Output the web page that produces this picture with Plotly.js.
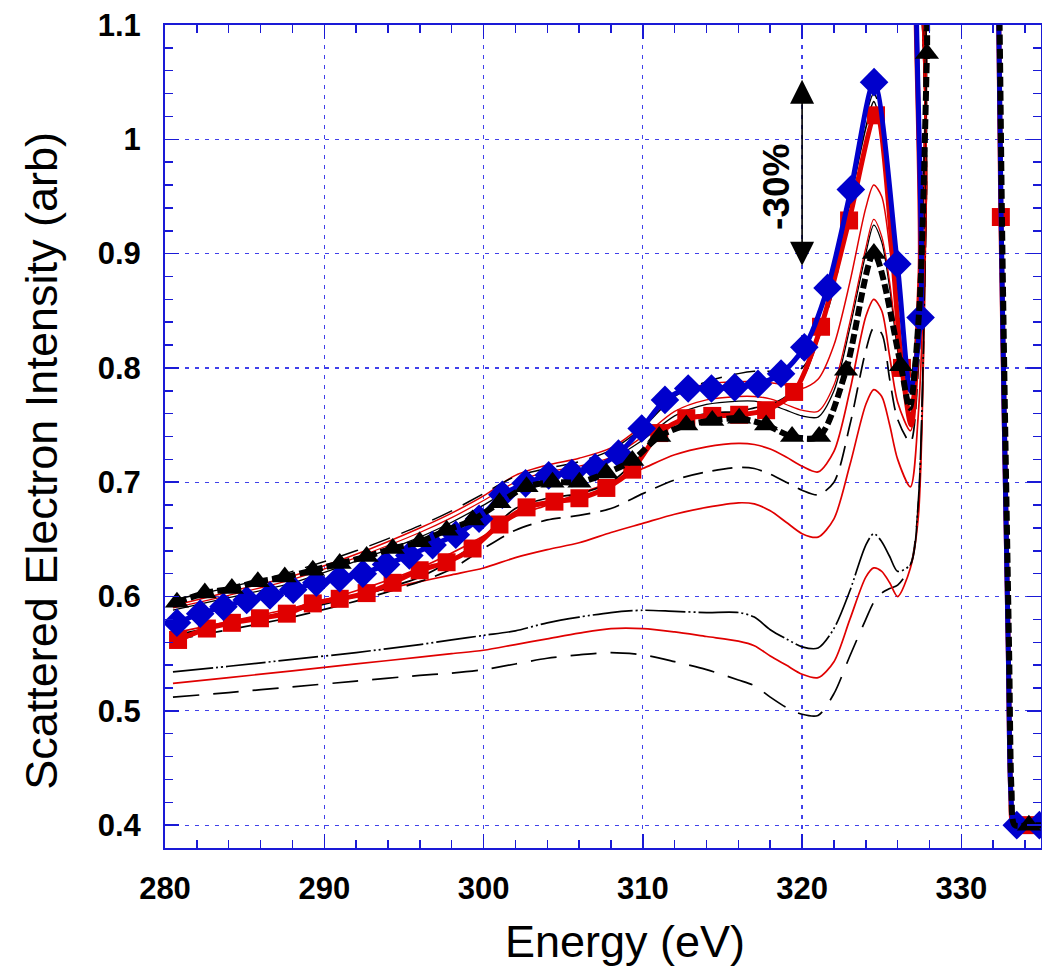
<!DOCTYPE html>
<html><head><meta charset="utf-8">
<script src="https://cdn.plot.ly/plotly-3.0.1.min.js"></script>
<style>html,body{margin:0;padding:0;background:#fff;}#chart{width:1042px;height:975px;}</style>
</head><body><div id="chart"></div>
<script>
// ---------- data ----------
// common energy grid for the thin curves (eV)
const X = [280.5, 284, 288, 292, 296, 298, 300, 302, 304, 306, 308, 310, 312, 314, 316, 317, 318, 319, 320, 321, 322, 323, 324, 324.5, 325, 325.5, 326, 326.8, 327.3, 327.8];
// shared off-scale excursion and drop back to the floor
const tailX = [328.4, 332.0, 332.35, 332.5, 332.7, 332.95, 333.1, 333.3, 335];
const tailY = [1.45, 1.45, 1.1, 0.93, 0.75, 0.55, 0.43, 0.40, 0.40];

const blackB = [0.597, 0.608, 0.622, 0.640, 0.662, 0.675, 0.690, 0.705, 0.712, 0.718, 0.728, 0.748, 0.775, 0.788, 0.795, 0.797, 0.797, 0.796, 0.800, 0.825, 0.870, 0.940, 1.020, 1.040, 1.020, 0.950, 0.870, 0.790, 0.860, 1.050];
const redC   = [0.592, 0.604, 0.618, 0.637, 0.660, 0.673, 0.688, 0.706, 0.715, 0.721, 0.730, 0.750, 0.776, 0.786, 0.788, 0.788, 0.787, 0.785, 0.782, 0.790, 0.820, 0.875, 0.940, 0.960, 0.950, 0.905, 0.845, 0.770, 0.860, 1.060];
const redE   = [0.590, 0.601, 0.615, 0.634, 0.656, 0.669, 0.684, 0.700, 0.709, 0.714, 0.722, 0.740, 0.762, 0.772, 0.775, 0.775, 0.773, 0.768, 0.763, 0.762, 0.785, 0.840, 0.905, 0.930, 0.915, 0.875, 0.820, 0.765, 0.850, 1.050];
const blackF = [0.588, 0.599, 0.612, 0.631, 0.652, 0.665, 0.680, 0.696, 0.705, 0.711, 0.720, 0.737, 0.758, 0.768, 0.771, 0.771, 0.768, 0.763, 0.758, 0.757, 0.780, 0.835, 0.900, 0.925, 0.910, 0.870, 0.815, 0.760, 0.845, 1.040];
const blackG = [0.566, 0.576, 0.587, 0.600, 0.617, 0.632, 0.652, 0.677, 0.686, 0.690, 0.700, 0.725, 0.752, 0.760, 0.762, 0.765, 0.768, 0.775, 0.790, 0.825, 0.880, 0.945, 1.010, 1.033, 1.005, 0.930, 0.840, 0.760, 0.850, 1.050];
const redH   = [0.568, 0.578, 0.590, 0.605, 0.625, 0.638, 0.653, 0.670, 0.680, 0.690, 0.700, 0.712, 0.724, 0.731, 0.734, 0.733, 0.729, 0.722, 0.714, 0.709, 0.727, 0.780, 0.845, 0.860, 0.850, 0.810, 0.770, 0.745, 0.830, 1.020];
const blackI = [0.562, 0.571, 0.582, 0.596, 0.613, 0.624, 0.642, 0.658, 0.667, 0.671, 0.677, 0.690, 0.702, 0.709, 0.713, 0.712, 0.707, 0.700, 0.693, 0.689, 0.700, 0.750, 0.815, 0.835, 0.830, 0.790, 0.755, 0.735, 0.800, 1.000];
const redJ   = [0.565, 0.576, 0.588, 0.601, 0.613, 0.619, 0.625, 0.634, 0.641, 0.647, 0.656, 0.664, 0.672, 0.678, 0.682, 0.681, 0.675, 0.665, 0.655, 0.652, 0.668, 0.715, 0.768, 0.781, 0.775, 0.750, 0.720, 0.696, 0.760, 0.950];
const blackK = [0.534, 0.539, 0.545, 0.551, 0.558, 0.562, 0.566, 0.570, 0.577, 0.582, 0.586, 0.588, 0.587, 0.586, 0.586, 0.582, 0.571, 0.563, 0.556, 0.555, 0.572, 0.605, 0.645, 0.655, 0.648, 0.635, 0.622, 0.628, 0.684, 0.950];
const redL   = [0.524, 0.529, 0.535, 0.541, 0.547, 0.550, 0.553, 0.558, 0.563, 0.568, 0.572, 0.572, 0.569, 0.565, 0.561, 0.557, 0.548, 0.540, 0.532, 0.529, 0.543, 0.580, 0.617, 0.625, 0.622, 0.612, 0.600, 0.625, 0.670, 0.950];
const blackM = [0.512, 0.516, 0.521, 0.526, 0.531, 0.533, 0.536, 0.541, 0.546, 0.549, 0.551, 0.549, 0.543, 0.536, 0.527, 0.522, 0.512, 0.503, 0.497, 0.496, 0.515, 0.548, 0.580, 0.595, 0.603, 0.607, 0.610, 0.627, 0.680, 0.950];

// blue diamonds (marked points) + unmarked points of the same curve
const diaX = [280.75, 282.21, 283.67, 285.13, 286.59, 288.05, 289.50, 290.96, 292.42, 293.88, 295.34, 296.80, 298.26, 299.72, 301.18, 302.64, 304.09, 305.55, 307.01, 308.47, 309.93, 311.39, 312.85, 314.31, 315.77, 317.23, 318.68, 320.14, 321.60, 323.06, 324.52, 325.98, 327.44, 333.48, 334.90];
const diaY = [0.577, 0.585, 0.591, 0.597, 0.601, 0.606, 0.612, 0.616, 0.620, 0.628, 0.636, 0.645, 0.654, 0.668, 0.689, 0.699, 0.706, 0.708, 0.713, 0.725, 0.747, 0.772, 0.782, 0.782, 0.783, 0.786, 0.795, 0.818, 0.870, 0.956, 1.050, 0.891, 0.844, 0.400, 0.400];
const diaLineX = [326.8, 328.4, 332.0, 332.35, 332.5, 332.7, 332.95, 333.1, 333.3, 335];
const diaLineY = [0.780, 1.45, 1.45, 1.10, 0.93, 0.75, 0.55, 0.43, 0.40, 0.40];

// red squares
const sqX = [280.82, 282.63, 284.20, 285.96, 287.65, 289.28, 290.97, 292.66, 294.29, 295.99, 297.68, 299.31, 301.00, 302.70, 304.45, 306.02, 307.71, 309.34, 311.03, 312.73, 314.36, 316.05, 317.74, 319.50, 321.19, 322.95, 324.64, 326.27, 332.48, 334.24];
const sqY = [0.562, 0.572, 0.577, 0.581, 0.585, 0.594, 0.598, 0.603, 0.612, 0.623, 0.630, 0.642, 0.663, 0.678, 0.683, 0.686, 0.695, 0.711, 0.743, 0.756, 0.758, 0.759, 0.763, 0.779, 0.836, 0.929, 1.021, 0.800, 0.932, 0.400];
const sqLineX = [326.85, 327.4, 328.4, 332.0, 332.35, 332.7, 332.95, 333.1, 333.3, 335];
const sqLineY = [0.750, 0.880, 1.45, 1.45, 1.10, 0.75, 0.55, 0.43, 0.40, 0.40];

// black triangles
const triX = [280.75, 282.50, 284.20, 285.83, 287.52, 289.28, 290.97, 292.66, 294.30, 295.99, 297.68, 299.31, 301.00, 302.70, 304.33, 306.02, 307.71, 309.34, 311.03, 312.73, 314.36, 316.05, 317.74, 319.37, 321.07, 322.76, 324.51, 326.20, 327.84, 334.24];
const triY = [0.595, 0.603, 0.607, 0.613, 0.617, 0.623, 0.629, 0.635, 0.642, 0.648, 0.658, 0.667, 0.682, 0.696, 0.700, 0.700, 0.708, 0.719, 0.740, 0.750, 0.754, 0.756, 0.750, 0.740, 0.740, 0.798, 0.900, 0.802, 1.075, 0.400];
const triLineX = [326.75, 327.35, 328.4, 332.0, 332.4, 332.55, 332.75, 333.0, 333.15, 333.35, 335];
const triLineY = [0.765, 0.850, 1.45, 1.45, 1.10, 0.93, 0.75, 0.55, 0.43, 0.40, 0.40];

// texts
const xTitle = 'Energy (eV)';
const yTitle = 'Scattered Electron Intensity (arb)';
const arrowX = 320, arrowTop = 1.052, arrowBottom = 0.888;
const labelText = '-30%', labelX = 318.4, labelY = 0.958;

// ---------- build ----------
const RED = '#e00000', BLUE = '#0000cc', BLACK = '#000000';
function merge(ax, ay, bx, by) {
  const pts = ax.map((v, i) => [v, ay[i]]).concat(bx.map((v, i) => [v, by[i]]));
  pts.sort((p, q) => p[0] - q[0]);
  return {x: pts.map(p => p[0]), y: pts.map(p => p[1])};
}
function thin(y, color, dash, width) {
  return {x: X.concat(tailX), y: y.concat(tailY), mode: 'lines', hoverinfo: 'skip',
    line: {color: color, dash: dash, width: width, shape: 'spline', smoothing: 0.8}};
}
const traces = [
  thin(blackM, BLACK, '26px,14px', 1.7),
  thin(redL, RED, 'solid', 1.7),
  thin(blackK, BLACK, '40px,3px,2px,3px,2px,3px', 1.7),
  thin(redJ, RED, 'solid', 1.7),
  thin(blackI, BLACK, '20px,10px', 1.7),
  thin(redH, RED, 'solid', 1.7),
  thin(blackG, BLACK, 'solid', 1.7),
  thin(blackF, BLACK, 'solid', 1.3),
  thin(redE, RED, 'solid', 1.3),
  thin(redC, RED, 'solid', 1.5),
  thin(blackB, BLACK, '22px,12px', 1.5)
];
const sqL = merge(sqX, sqY, sqLineX, sqLineY);
traces.push({x: sqL.x, y: sqL.y, mode: 'lines', line: {color: RED, width: 5, shape: 'spline', smoothing: 0.8}});
traces.push({x: sqX, y: sqY, mode: 'markers', marker: {symbol: 'square', size: 18, color: RED}});
const diL = merge(diaX, diaY, diaLineX, diaLineY);
traces.push({x: diL.x, y: diL.y, mode: 'lines', line: {color: BLUE, width: 5, shape: 'spline', smoothing: 0.8}});
traces.push({x: diaX, y: diaY, mode: 'markers', marker: {symbol: 'diamond', size: 22, color: BLUE}});
const trL = merge(triX, triY, triLineX, triLineY);
traces.push({x: trL.x, y: trL.y, mode: 'lines', line: {color: BLACK, width: 6, dash: '10px,4px', shape: 'spline', smoothing: 0.8}});
traces.push({x: triX, y: triY, mode: 'markers', marker: {symbol: 'triangle-up', size: 21, color: BLACK}});

const AX = '#1a1ad6';
const FONT = 'Liberation Sans, Arial, sans-serif';
const common = {
  showline: true, linecolor: AX, linewidth: 2, mirror: 'ticks',
  ticks: 'inside', ticklen: 14, tickwidth: 1.5, tickcolor: AX,
  showgrid: true, gridcolor: 'rgba(30,30,230,0.85)', gridwidth: 1.2, griddash: '4px,6px',
  zeroline: false,
  tickfont: {family: FONT, size: 31, color: '#000', weight: 'bold'}
};
const layout = {
  width: 1042, height: 975,
  margin: {l: 165, r: 1, t: 25, b: 127},
  paper_bgcolor: '#fff', plot_bgcolor: '#fff',
  showlegend: false,
  xaxis: Object.assign({}, common, {
    range: [280, 335], dtick: 10, tick0: 280,
    minor: {dtick: 2, ticks: 'inside', ticklen: 8, tickcolor: AX, tickwidth: 1.5, showgrid: false},
    ticklabelstandoff: 12
  }),
  yaxis: Object.assign({}, common, {
    range: [0.38, 1.1], dtick: 0.1, tick0: 0.4,
    minor: {dtick: 0.02, ticks: 'inside', ticklen: 8, tickcolor: AX, tickwidth: 1.5, showgrid: false},
    ticklabelstandoff: 16
  }),
  annotations: [
    {x: arrowX, y: arrowTop, ax: arrowX, ay: arrowBottom, axref: 'x', ayref: 'y', xref: 'x', yref: 'y',
     text: '', showarrow: true, arrowside: 'end+start', arrowhead: 2, arrowsize: 3, arrowwidth: 1.6, arrowcolor: '#000'},
    {x: labelX, y: labelY, xref: 'x', yref: 'y', text: labelText, showarrow: false, textangle: -90,
     font: {family: FONT, size: 37, color: '#000', weight: 'bold'}},
    {x: 0.525, y: -0.114, xref: 'paper', yref: 'paper', xanchor: 'center', yanchor: 'middle',
     text: xTitle, showarrow: false, font: {family: FONT, size: 45, color: '#000'}},
    {x: -0.141, y: 0.471, xref: 'paper', yref: 'paper', xanchor: 'center', yanchor: 'middle',
     text: yTitle, showarrow: false, textangle: -90, font: {family: FONT, size: 45, color: '#000'}}
  ]
};
Plotly.newPlot('chart', traces, layout, {displayModeBar: false, staticPlot: true});
</script>
</body></html>
